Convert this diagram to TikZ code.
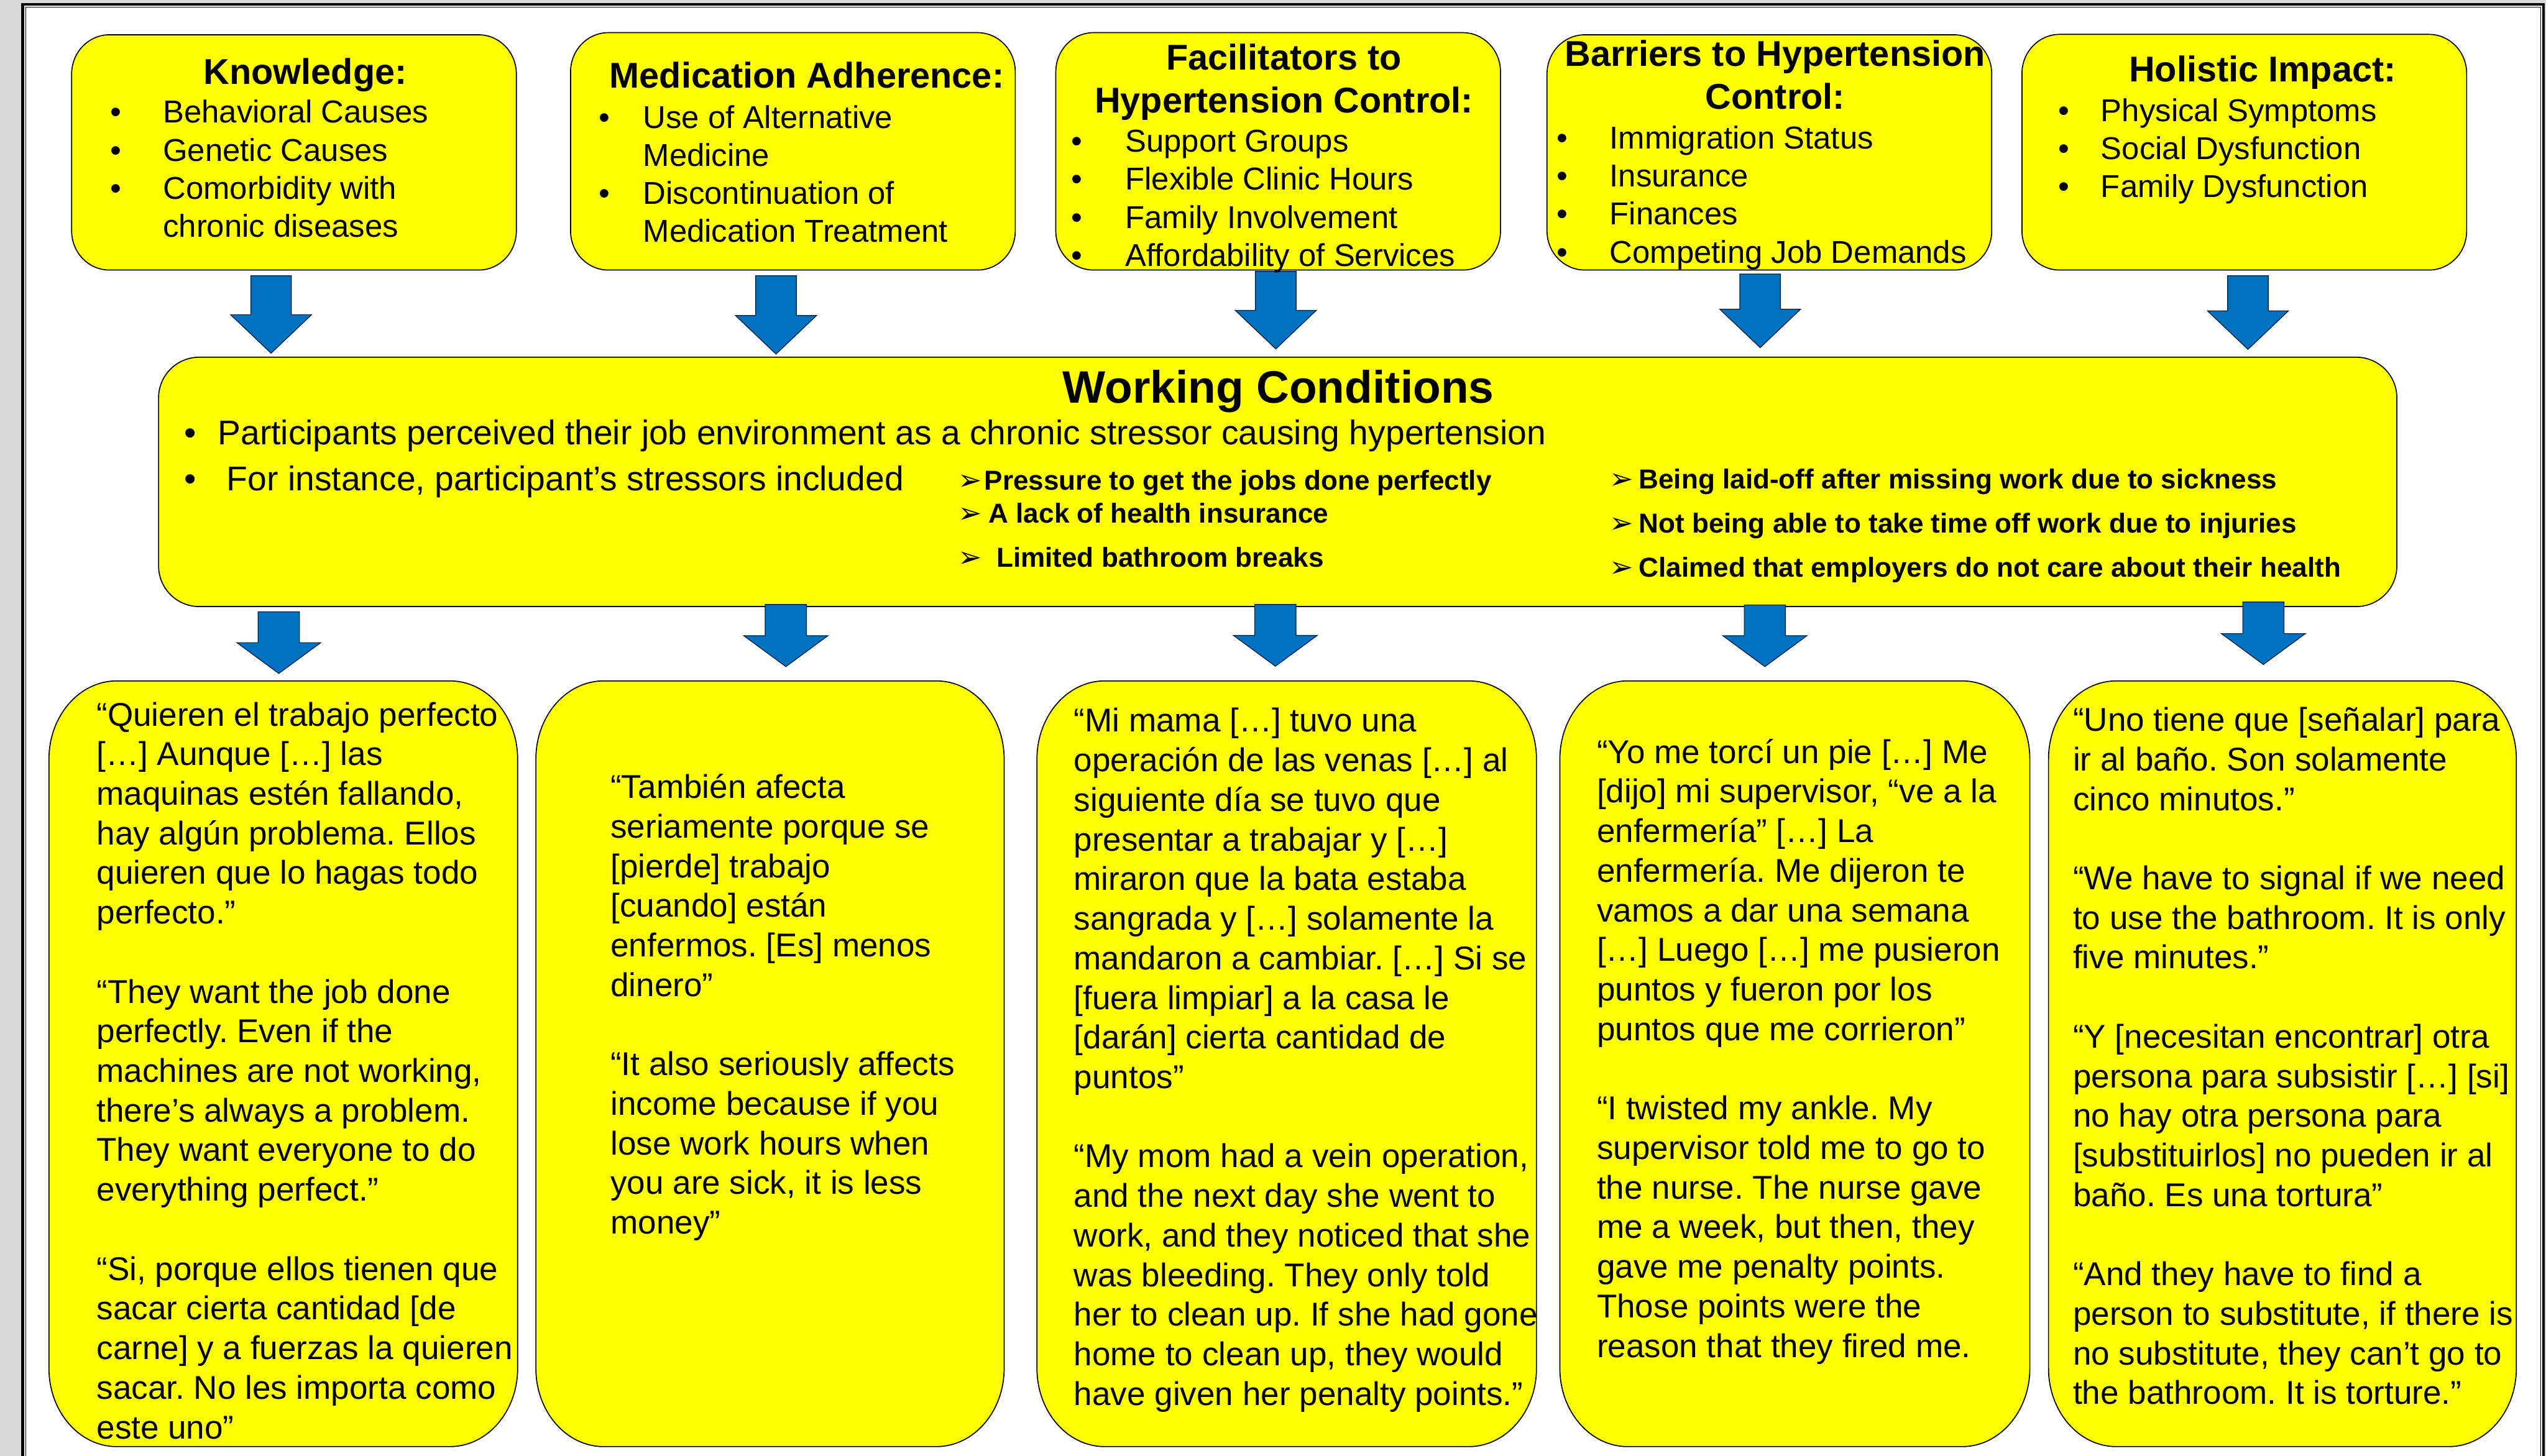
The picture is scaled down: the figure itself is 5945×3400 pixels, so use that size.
\documentclass[tikz,border=0pt]{standalone}
\usepackage{fontspec}
\setmainfont{Liberation Sans}
\newfontfamily\djv{DejaVu Sans}
\usetikzlibrary{fit,calc}
\frenchspacing
\definecolor{ylw}{HTML}{FFFF00}
\definecolor{arrblue}{HTML}{0070C0}
\definecolor{pagegray}{HTML}{D9D9D9}
\pgfdeclarelayer{bg}
\pgfdeclarelayer{boxes}
\pgfsetlayers{bg,boxes,main}
\tikzset{
  boxline/.style={draw=black, line width=0.7pt, fill=ylw},
  barrow/.style={fill=arrblue, draw=black!75!arrblue, line width=0.5pt},
  ttl/.style={font=\fontsize{23.8}{28.5}\selectfont\bfseries, inner sep=0pt, align=center, anchor=base},
  itm/.style={font=\fontsize{21}{25.3}\selectfont, inner sep=0pt, align=left, anchor=base west},
  bul/.style={font=\fontsize{21}{25.3}\selectfont, inner sep=0pt, align=center, anchor=base},
  quote/.style={font=\fontsize{21.9}{26.3}\selectfont, inner sep=0pt, align=left, anchor=base west},
  wcttl/.style={font=\fontsize{30.2}{36}\selectfont\bfseries, inner sep=0pt, anchor=base},
  wcitm/.style={font=\fontsize{22.8}{27}\selectfont, inner sep=0pt, anchor=base west},
  wcbul/.style={font=\fontsize{22.8}{27}\selectfont, inner sep=0pt, anchor=base},
  stress/.style={font=\fontsize{18.2}{22}\selectfont\bfseries, inner sep=0pt, anchor=base west},
  sarrow/.style={font=\djv\bfseries\fontsize{19}{22}\selectfont, inner sep=0pt, anchor=base west},
}
% box: name, x1, y1, x2, y2, rx, ry
\newcommand\mkbox[7]{%
  \path (#2,#3) coordinate (#1nw) (#4,#5) coordinate (#1se);
  \node[inner sep=0pt, fit=(#1nw)(#1se)] (#1) {};
  \begin{pgfonlayer}{boxes}
  \draw[boxline] ([xshift=#6]#1.north west) -- ([xshift=-#6]#1.north east)
    arc[start angle=90,end angle=0,x radius=#6,y radius=#7]
    -- ([yshift=#7]#1.south east)
    arc[start angle=0,end angle=-90,x radius=#6,y radius=#7]
    -- ([xshift=#6]#1.south west)
    arc[start angle=-90,end angle=-180,x radius=#6,y radius=#7]
    -- ([yshift=-#7]#1.north west)
    arc[start angle=180,end angle=90,x radius=#6,y radius=#7] -- cycle;
  \end{pgfonlayer}}
% block arrow: from, to, head length, shaft half width, head half width
\newcommand\blkarrow[5]{%
  \begin{pgfonlayer}{boxes}
  \draw[barrow] let \p1=(#1), \p2=(#2) in
    (\x1-#4,\y1) -- (\x1+#4,\y1) -- (\x1+#4,\y2+#3) -- (\x1+#5,\y2+#3)
    -- (\x1,\y2) -- (\x1-#5,\y2+#3) -- (\x1-#4,\y2+#3) -- cycle;
  \end{pgfonlayer}}
\begin{document}
\begin{tikzpicture}[x=0.01cm, y=-0.01cm]
\useasboundingbox (0,0) rectangle (5945,3400);
\begin{pgfonlayer}{bg}
  \fill[pagegray] (0,0) rectangle (5945,3400);
  \fill[white] (50,7) rectangle (5942,3400);
  \draw[line width=1.7pt] (53,3420) -- (53,10) -- (5939,10) -- (5939,3420);
  \draw[line width=0.45pt] (60.5,3420) -- (60.5,16.5) -- (5933,16.5) -- (5933,3420);
\end{pgfonlayer}

% ---------- top boxes ----------
\mkbox{kn}{168}{82}{1205}{630}{25pt}{26pt}
\mkbox{med}{1333}{77}{2370}{630}{25pt}{26pt}
\mkbox{fac}{2466}{77}{3503}{630}{25pt}{26pt}
\mkbox{bar}{3613}{82}{4650}{630}{25pt}{26pt}
\mkbox{hol}{4722}{81}{5759}{630}{25pt}{26pt}

% ---------- working conditions ----------
\mkbox{wc}{371}{835}{5596}{1416}{27pt}{27pt}

% ---------- bottom boxes ----------
\mkbox{qa}{115}{1591}{1208}{3378}{45pt}{52pt}
\mkbox{qb}{1252}{1591}{2344}{3378}{45pt}{52pt}
\mkbox{qc}{2422}{1591}{3587}{3378}{45pt}{52pt}
\mkbox{qd}{3643}{1591}{4739}{3378}{45pt}{52pt}
\mkbox{qe}{4784}{1591}{5875}{3378}{45pt}{52pt}

% ---------- arrows top -> working conditions ----------
\coordinate (ta1) at (633,644);  \coordinate (tb1) at (633,825);
\coordinate (ta2) at (1812,644); \coordinate (tb2) at (1812,827);
\coordinate (ta3) at (2979,634); \coordinate (tb3) at (2979,815);
\coordinate (ta4) at (4110,640); \coordinate (tb4) at (4110,812);
\coordinate (ta5) at (5249,644); \coordinate (tb5) at (5249,816);
\foreach \i in {1,...,5}{\blkarrow{ta\i}{tb\i}{25.6pt}{13.5pt}{26.9pt}}

% ---------- arrows working conditions -> quotes ----------
\coordinate (ba1) at (651,1429);  \coordinate (bb1) at (651,1573);
\coordinate (ba2) at (1835,1412); \coordinate (bb2) at (1835,1557);
\coordinate (ba3) at (2978,1412); \coordinate (bb3) at (2978,1556);
\coordinate (ba4) at (4121,1413); \coordinate (bb4) at (4121,1557);
\coordinate (ba5) at (5285,1406); \coordinate (bb5) at (5285,1552);
\foreach \i in {1,...,5}{\blkarrow{ba\i}{bb\i}{20.5pt}{13.7pt}{27.9pt}}

% ---------- top box texts (anchors on the LAST baseline) ----------
\node[ttl] (knt) at (713,196) {Knowledge:};
\node[bul] (knb) at (270,465) {•\\•\\•};
\node[itm] (kni) at (380,554) {Behavioral Causes\\Genetic Causes\\Comorbidity with\\chronic diseases};

\node[ttl] (medt) at (1884,205) {Medication Adherence:};
\node[bul] (medb) at (1412,477) {•\\[25.3pt]•};
\node[itm] (medi) at (1501,566) {Use of Alternative\\Medicine\\Discontinuation of\\Medication Treatment};

\node[ttl] (fact) at (2998,264) {Facilitators to\\Hypertension Control:};
\node[bul] (facb) at (2515,622) {•\\•\\•\\•};
\node[itm] (faci) at (2627,622) {Support Groups\\Flexible Clinic Hours\\Family Involvement\\Affordability of Services};

\node[ttl] (bart) at (4145,255) {Barriers to Hypertension\\Control:};
\node[bul] (barb) at (3648,614) {•\\•\\•\\•};
\node[itm] (bari) at (3758,614) {Immigration Status\\Insurance\\Finances\\Competing Job Demands};

\node[ttl] (holt) at (5283,191) {Holistic Impact:};
\node[bul] (holb) at (4819,461) {•\\•\\•};
\node[itm] (holi) at (4905,461) {Physical Symptoms\\Social Dysfunction\\Family Dysfunction};

% ---------- working conditions text ----------
\node[wcttl] (wct) at (2985,941) {Working Conditions};
\node[wcbul] (wcb1) at (445,1038) {•};
\node[wcitm] (wci1) at (508,1038) {Participants perceived their job environment as a chronic stressor causing hypertension};
\node[wcbul] (wcb2) at (445,1146) {•};
\node[wcitm] (wci2) at (529,1146) {For instance, participant’s stressors included};

\node[sarrow] (sa1) at (2236,1145) {➢};
\node[stress] (s1) at (2298,1145) {Pressure to get the jobs done perfectly};
\node[sarrow] (sa2) at (2236,1222) {➢};
\node[stress] (s2) at (2308,1222) {A lack of health insurance};
\node[sarrow] (sa3) at (2236,1325) {➢};
\node[stress] (s3) at (2326,1325) {Limited bathroom breaks};
\node[sarrow] (sa4) at (3758,1141) {➢};
\node[stress] (s4) at (3826,1141) {Being laid-off after missing work due to sickness};
\node[sarrow] (sa5) at (3758,1245) {➢};
\node[stress] (s5) at (3826,1245) {Not being able to take time off work due to injuries};
\node[sarrow] (sa6) at (3758,1347) {➢};
\node[stress] (s6) at (3826,1347) {Claimed that employers do not care about their health};

% ---------- quotes (anchors on the LAST baseline) ----------
\node[quote] (qat) at (225,3360) {“Quieren el trabajo perfecto\\
{}[…] Aunque […] las\\
maquinas estén fallando,\\
hay algún problema. Ellos\\
quieren que lo hagas todo\\
perfecto.”\\[26.3pt]
“They want the job done\\
perfectly. Even if the\\
machines are not working,\\
there’s always a problem.\\
They want everyone to do\\
everything perfect.”\\[26.3pt]
“Si, porque ellos tienen que\\
sacar cierta cantidad [de\\
carne] y a fuerzas la quieren\\
sacar. No les importa como\\
este uno”};

\node[quote] (qbt) at (1425,2882) {“También afecta\\
seriamente porque se\\
{}[pierde] trabajo\\
{}[cuando] están\\
enfermos. [Es] menos\\
dinero”\\[26.3pt]
“It also seriously affects\\
income because if you\\
lose work hours when\\
you are sick, it is less\\
money”};

\node[quote] (qct) at (2507,3282) {“Mi mama […] tuvo una\\
operación de las venas […] al\\
siguiente día se tuvo que\\
presentar a trabajar y […]\\
miraron que la bata estaba\\
sangrada y […] solamente la\\
mandaron a cambiar. […] Si se\\
{}[fuera limpiar] a la casa le\\
{}[darán] cierta cantidad de\\
puntos”\\[26.3pt]
“My mom had a vein operation,\\
and the next day she went to\\
work, and they noticed that she\\
was bleeding. They only told\\
her to clean up. If she had gone\\
home to clean up, they would\\
have given her penalty points.”};

\node[quote] (qdt) at (3728,3170) {“Yo me torcí un pie […] Me\\
{}[dijo] mi supervisor, “ve a la\\
enfermería” […] La\\
enfermería. Me dijeron te\\
vamos a dar una semana\\
{}[…] Luego […] me pusieron\\
puntos y fueron por los\\
puntos que me corrieron”\\[26.3pt]
“I twisted my ankle. My\\
supervisor told me to go to\\
the nurse. The nurse gave\\
me a week, but then, they\\
gave me penalty points.\\
Those points were the\\
reason that they fired me.};

\node[quote] (qet) at (4840,3280) {“Uno tiene que [señalar] para\\
ir al baño. Son solamente\\
cinco minutos.”\\[26.3pt]
“We have to signal if we need\\
to use the bathroom. It is only\\
five minutes.”\\[26.3pt]
“Y [necesitan encontrar] otra\\
persona para subsistir […] [si]\\
no hay otra persona para\\
{}[substituirlos] no pueden ir al\\
baño. Es una tortura”\\[26.3pt]
“And they have to find a\\
person to substitute, if there is\\
no substitute, they can’t go to\\
the bathroom. It is torture.”};
\end{tikzpicture}
\end{document}
